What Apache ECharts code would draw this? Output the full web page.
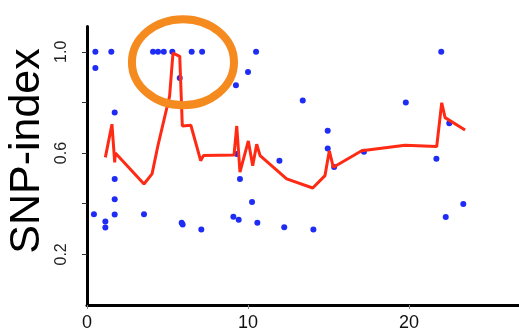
<!DOCTYPE html>
<html>
<head>
<meta charset="utf-8">
<script src="https://cdn.jsdelivr.net/npm/echarts@6/dist/echarts.min.js"></script>
<style>html,body{margin:0;padding:0;background:#fff}#c{width:519px;height:332px}</style>
</head>
<body>
<div id="c"></div>
<script>
// SNP positions (x) and SNP-index values (y) of individual points
var snpX = [0.52, 1.51, 4.1, 4.41, 4.77, 5.3, 6.5, 7.15, 10.5, 22.0,
  0.52, 1.72, 5.76, 9.25, 10.0, 13.4, 19.8, 14.95, 14.95, 17.2, 22.5,
  11.95, 21.7, 15.35, 9.3, 9.5, 1.72, 1.72, 1.72, 0.43, 1.14, 1.14,
  3.54, 5.88, 5.94, 7.1, 10.25, 9.09, 9.42, 10.58, 12.25, 14.06, 22.28, 23.37];
var snpY = [1.0, 1.0, 1.0, 1.0, 1.0, 1.0, 1.0, 1.0, 1.0, 1.0,
  0.936, 0.76, 0.897, 0.868, 0.92, 0.808, 0.80, 0.688, 0.618, 0.605, 0.718,
  0.57, 0.578, 0.545, 0.596, 0.498, 0.498, 0.418, 0.357, 0.358, 0.33, 0.306,
  0.358, 0.325, 0.318, 0.298, 0.407, 0.349, 0.337, 0.325, 0.307, 0.298, 0.348, 0.399];
// sliding-window average line
var lineX = [1.14, 1.55, 1.72, 1.76, 3.54, 4.04, 4.4, 5.13, 5.34, 5.76, 5.92, 6.45, 7.06, 7.23,
  9.13, 9.3, 9.5, 10.02, 10.29, 10.54, 10.75, 12.4, 14.02, 14.78, 15.05, 15.3, 17.06, 19.75,
  21.72, 22.03, 22.24, 23.48];
var lineY = [0.583, 0.714, 0.563, 0.60, 0.478, 0.518, 0.628, 0.825, 0.995, 0.982, 0.707, 0.71, 0.57, 0.59,
  0.592, 0.707, 0.525, 0.648, 0.55, 0.635, 0.59, 0.498, 0.462, 0.511, 0.609, 0.544, 0.609, 0.631,
  0.626, 0.799, 0.74, 0.691];
var xTicks = [0, 10, 20];
var yTicks = [0.2, 0.4, 0.6, 0.8, 1.0];
var yLabels = [0.2, 0.6, 1.0];
var yTitle = 'SNP-index';
// highlighted region (data coords): centre and half-widths
var hlCenter = [5.96, 0.959];
var hlRadius = [3.17, 0.17];

var chart = echarts.init(document.getElementById('c'));
var pts = snpX.map(function (x, i) { return [x, snpY[i]]; });
var ln = lineX.map(function (x, i) { return [x, lineY[i]]; });
var font = 'Liberation Sans, Arial, sans-serif';
chart.setOption({
  animation: false,
  backgroundColor: '#ffffff',
  grid: { left: 87, right: 0, top: 26.5, bottom: 25 },
  xAxis: {
    type: 'value', min: 0, max: 26.83, interval: 10,
    splitLine: { show: false },
    axisLine: { show: true, onZero: false, lineStyle: { color: '#000', width: 3 } },
    axisTick: { show: true, length: 4, customValues: xTicks, lineStyle: { color: '#888', width: 1 } },
    axisLabel: { customValues: xTicks, margin: 9, fontSize: 18, color: '#111', fontFamily: font }
  },
  yAxis: {
    type: 'value', min: 0, max: 1.1, interval: 0.2,
    splitLine: { show: false },
    axisLine: { show: true, onZero: false, lineStyle: { color: '#000', width: 3 } },
    axisTick: { show: true, length: 5, customValues: yTicks, lineStyle: { color: '#333', width: 1 } },
    axisLabel: { customValues: yLabels, rotate: 90, margin: 17, fontSize: 16, color: '#222', fontFamily: font,
      formatter: function (v) { return v.toFixed(1); } }
  },
  series: [
    { type: 'scatter', data: pts, symbolSize: 6, itemStyle: { color: '#1f2cf5', opacity: 1 }, z: 2 },
    { type: 'line', data: ln, showSymbol: false, symbol: 'none', lineStyle: { color: '#ff2a14', width: 3 }, z: 3 }
  ]
});
var c = chart.convertToPixel({ gridIndex: 0 }, hlCenter);
var e = chart.convertToPixel({ gridIndex: 0 }, [hlCenter[0] + hlRadius[0], hlCenter[1] + hlRadius[1]]);
chart.setOption({
  graphic: [
    { type: 'ellipse', shape: { cx: c[0], cy: c[1], rx: Math.abs(e[0] - c[0]), ry: Math.abs(c[1] - e[1]) },
      style: { fill: null, stroke: '#f58a1f', lineWidth: 8 }, z: 10 },
    { type: 'text', x: 27, y: 151, rotation: Math.PI / 2,
      style: { text: yTitle, font: '43px ' + font, fill: '#000', align: 'center', verticalAlign: 'middle' } }
  ]
});
</script>
</body>
</html>
